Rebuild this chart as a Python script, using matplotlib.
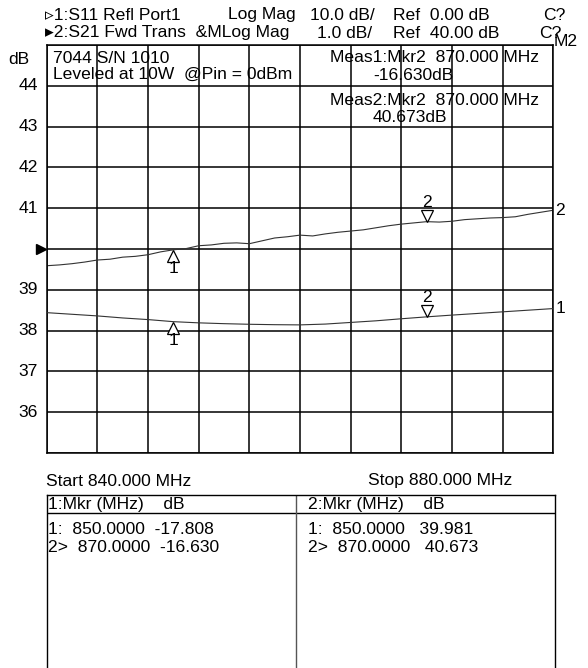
import numpy as np
import matplotlib
matplotlib.use("Agg")
import matplotlib.pyplot as plt
from matplotlib import transforms

plt.rcParams['font.family'] = ['Liberation Sans', 'DejaVu Sans']
FS = 12.6

# trace 2: S21 Fwd Trans (dB), 1 dB/div, ref 40 dB
freq2 = np.arange(840, 881, 1)
s21 = [39.59, 39.61, 39.64, 39.68, 39.73, 39.75, 39.80, 39.82, 39.86, 39.93,
       39.98, 40.01, 40.08, 40.10, 40.14, 40.15, 40.13, 40.20, 40.27, 40.30,
       40.34, 40.32, 40.37, 40.41, 40.44, 40.47, 40.52, 40.57, 40.61, 40.64,
       40.67, 40.66, 40.68, 40.72, 40.74, 40.76, 40.77, 40.79, 40.85, 40.90,
       40.95]

# trace 1: S11 Refl Port1 (dB), 10 dB/div, ref 0 dB
freq1 = np.arange(840, 881, 2)
s11 = [-15.6, -16.0, -16.4, -16.9, -17.3, -17.81, -18.1, -18.3, -18.45, -18.55,
       -18.6, -18.4, -18.0, -17.6, -17.1, -16.63, -16.2, -15.8, -15.4, -15.0,
       -14.6]

# markers
mkr_freq = [850.0, 870.0]
mkr_s11 = [-17.808, -16.630]
mkr_s21 = [39.981, 40.673]

ytick_vals = [36, 37, 38, 39, 41, 42, 43, 44]

W, H = 588, 668
fig = plt.figure(figsize=(W / 100, H / 100), dpi=100)

def fx(px):
    return px / W

def fy(py):
    return 1 - py / H

x0, x1, y0, y1 = 46.7, 553.3, 45, 453
ax = fig.add_axes([fx(x0), fy(y1), (x1 - x0) / W, (y1 - y0) / H])
ax.set_xlim(840, 880)
ax.set_ylim(35, 45)
ax.set_xticks(np.arange(840, 881, 4))
ax.set_yticks(np.arange(35, 46, 1))
ax.grid(True, color='black', linewidth=1.1)
ax.tick_params(length=0, labelbottom=False, labelleft=False)
for s in ax.spines.values():
    s.set_linewidth(1.1)
for v in ytick_vals:
    ax.text(-0.017, v, str(v), transform=ax.get_yaxis_transform(),
            ha='right', va='center', fontsize=FS)

ax2 = ax.twinx()
ax2.set_ylim(-50, 50)
ax2.axis('off')

ax.plot(freq2, s21, color='#333333', lw=0.8)
ax2.plot(freq1, s11, color='#333333', lw=0.8)

def put_marker(a, f, v, num, up):
    off = -6 if up else 6
    tr = transforms.offset_copy(a.transData, fig=fig, x=0, y=off, units='dots')
    a.plot([f], [v], marker='^' if up else 'v', ms=8.5, mfc='white',
           mec='black', mew=0.9, transform=tr, clip_on=False)
    a.annotate(str(num), (f, v), xytext=(0, -19 if up else 19),
               textcoords='offset pixels', ha='center', va='center', fontsize=FS)

put_marker(ax, mkr_freq[0], mkr_s21[0], 1, True)
put_marker(ax, mkr_freq[1], mkr_s21[1], 2, False)
put_marker(ax2, mkr_freq[0], mkr_s11[0], 1, True)
put_marker(ax2, mkr_freq[1], mkr_s11[1], 2, False)

ax.annotate('2', (freq2[-1], s21[-1]), xytext=(2, 0), textcoords='offset pixels',
            ha='left', va='center', fontsize=FS, annotation_clip=False)
ax2.annotate('1', (freq1[-1], s11[-1]), xytext=(2, 0), textcoords='offset pixels',
             ha='left', va='center', fontsize=FS, annotation_clip=False)

# reference position arrow
ax.plot([-0.011], [40], marker='>', ms=7, color='black',
        transform=ax.get_yaxis_transform(), clip_on=False)

# annotations inside the grid
ax.text(0.0125, 0.968, '7044 S/N 1010', transform=ax.transAxes,
        ha='left', va='center', fontsize=FS)
ax.text(0.0125, 0.928, 'Leveled at 10W  @Pin = 0dBm', transform=ax.transAxes,
        ha='left', va='center', fontsize=FS)
ax.text(0.559, 0.969, 'Meas1:Mkr2  870.000 MHz', transform=ax.transAxes,
        ha='left', va='center', fontsize=FS)
ax.text(0.644, 0.926, '-16.630dB', transform=ax.transAxes,
        ha='left', va='center', fontsize=FS)
ax.text(0.559, 0.865, 'Meas2:Mkr2  870.000 MHz', transform=ax.transAxes,
        ha='left', va='center', fontsize=FS)
ax.text(0.644, 0.823, '40.673dB', transform=ax.transAxes,
        ha='left', va='center', fontsize=FS)

# header
fig.text(fx(45), fy(15), '\u25b91:S11 Refl Port1', ha='left', va='center', fontsize=FS)
fig.text(fx(228), fy(15), 'Log Mag', ha='left', va='center', fontsize=FS)
fig.text(fx(310), fy(15), '10.0 dB/', ha='left', va='center', fontsize=FS)
fig.text(fx(393), fy(15), 'Ref  0.00 dB', ha='left', va='center', fontsize=FS)
fig.text(fx(543), fy(15), 'C?', ha='left', va='center', fontsize=FS)
fig.text(fx(45), fy(33), '\u25b82:S21 Fwd Trans  &MLog Mag', ha='left', va='center', fontsize=FS)
fig.text(fx(317), fy(33), '1.0 dB/', ha='left', va='center', fontsize=FS)
fig.text(fx(393), fy(33), 'Ref  40.00 dB', ha='left', va='center', fontsize=FS)
fig.text(fx(539), fy(33), 'C?', ha='left', va='center', fontsize=FS)
fig.text(fx(554), fy(42), 'M2', ha='left', va='center', fontsize=FS)
fig.text(fx(8), fy(60), 'dB', ha='left', va='center', fontsize=FS)

fig.text(fx(46), fy(481), 'Start 840.000 MHz', ha='left', va='center', fontsize=FS)
fig.text(fx(368), fy(481), 'Stop 880.000 MHz', ha='left', va='center', fontsize=FS)

# marker table
tb = fig.add_axes([fx(47), 0, (554.5 - 47) / W, fy(495)])
tb.set_xlim(0, 1)
tb.set_ylim(0, 1)
tb.set_xticks([])
tb.set_yticks([])
tb.spines['bottom'].set_visible(False)
for s in ['left', 'right', 'top']:
    tb.spines[s].set_linewidth(1.0)
hdr = 1 - 18 / 173
tb.axhline(hdr, color='black', lw=1.0)
tb.axvline((296 - 47) / 507.5, color='#555555', lw=1.0)

def trow(py):
    return 1 - (py - 495) / 173

tb.text(0.002, trow(504), '1:Mkr (MHz)    dB', ha='left', va='center', fontsize=FS)
tb.text(0.002, trow(529), '1:  850.0000  -17.808', ha='left', va='center', fontsize=FS)
tb.text(0.002, trow(548), '2>  870.0000  -16.630', ha='left', va='center', fontsize=FS)
tb.text((308 - 47) / 507.5, trow(504), '2:Mkr (MHz)    dB', ha='left', va='center', fontsize=FS)
tb.text((308 - 47) / 507.5, trow(529), '1:  850.0000   39.981', ha='left', va='center', fontsize=FS)
tb.text((308 - 47) / 507.5, trow(548), '2>  870.0000   40.673', ha='left', va='center', fontsize=FS)

fig.savefig('out.png', dpi=100)
